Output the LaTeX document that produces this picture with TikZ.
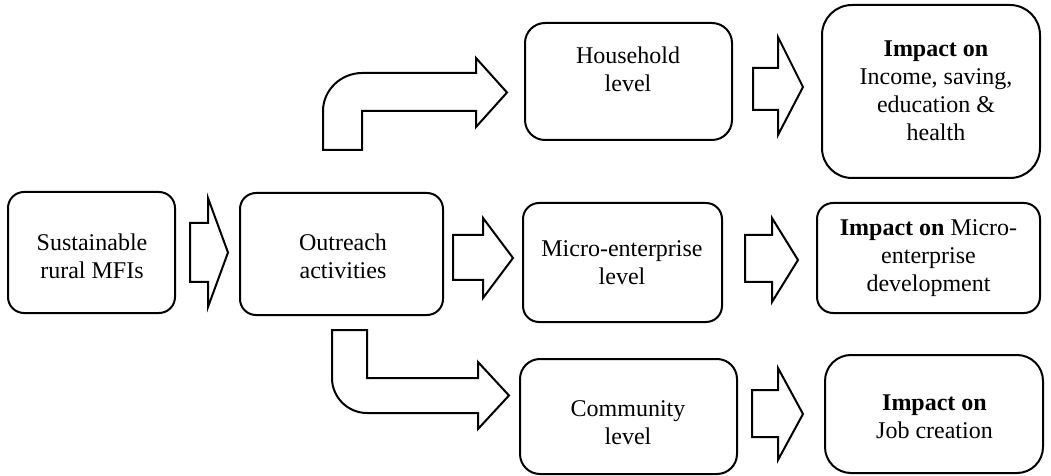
\documentclass[tikz,border=0pt]{standalone}
\usepackage{fontspec}
\setmainfont{Liberation Serif}
\begin{document}
\begin{tikzpicture}[x=0.5pt,y=-0.5pt,
  box/.style={draw, line width=1pt, inner sep=0pt},
  txt/.style={inner sep=0pt, align=center, font=\fontsize{12}{14}\selectfont},
  blk/.style={draw, line width=1pt, line join=miter, fill=white}]
\useasboundingbox (0,0) rectangle (1051,476);

% boxes
\node[box, rounded corners=8pt, minimum width=83.5pt, minimum height=60.5pt] (mfi) at (91.5,252.5) {};
\node[box, rounded corners=8pt, minimum width=101.5pt, minimum height=61pt] (out) at (341.5,254) {};
\node[box, rounded corners=10pt, minimum width=103.5pt, minimum height=58.5pt] (hh) at (628.5,81.5) {};
\node[box, rounded corners=8pt, minimum width=99.5pt, minimum height=59.5pt] (me) at (622.5,262.5) {};
\node[box, rounded corners=10pt, minimum width=108.5pt, minimum height=57.5pt] (com) at (628.5,416.5) {};
\node[box, rounded corners=15pt, minimum width=109pt, minimum height=86.5pt] (imp1) at (931,91.5) {};
\node[box, rounded corners=8pt, minimum width=111.5pt, minimum height=55pt] (imp2) at (928.5,258) {};
\node[box, rounded corners=13pt, minimum width=109pt, minimum height=59pt] (imp3) at (934,414) {};

% texts
\node[txt] (mfit) at (92,256) {Sustainable\\rural MFIs};
\node[txt] (outt) at (343,256) {Outreach\\activities};
\node[txt] (hht) at (628,69) {Household\\level};
\node[txt] (met) at (622,263) {Micro-enterprise\\level};
\node[txt] (comt) at (628,423) {Community\\level};
\node[txt] (imp1t) at (936,91) {\textbf{Impact on}\\Income, saving,\\education \&\\health};
\node[txt] (imp2t) at (928.5,258) {\textbf{Impact on} Micro-\\enterprise\\development};
\node[txt] (imp3t) at (934.5,417) {\textbf{Impact on}\\Job creation};

% straight block arrows
\draw[blk] (190,223) -- (208,223) -- (208,198) -- (228,252.5) -- (208,307) -- (208,282) -- (190,282) -- cycle;
\draw[blk] (453,235) -- (483,235) -- (483,218) -- (513,258) -- (483,298) -- (483,280) -- (453,280) -- cycle;
\draw[blk] (753,68) -- (778,68) -- (778,37) -- (803,87) -- (778,135) -- (778,110) -- (753,110) -- cycle;
\draw[blk] (745,235) -- (772,235) -- (772,218) -- (798,260) -- (772,302) -- (772,282) -- (745,282) -- cycle;
\draw[blk] (752,390) -- (778,390) -- (778,368) -- (803,414) -- (778,460) -- (778,437) -- (752,437) -- cycle;

% bent block arrows
\draw[blk] (323,150) -- (323,111) .. controls (323,90) and (341,73) .. (362,73)
  -- (476,73) -- (476,58) -- (507,92.5) -- (476,127) -- (476,111) -- (362,111) -- (362,150) -- cycle;
\draw[blk] (332,330) -- (367,330) -- (367,378) -- (478,378) -- (478,362) -- (509,395.5)
  -- (478,429) -- (478,413) -- (367,413) .. controls (347.7,413) and (332,397.3) .. (332,378) -- cycle;
\end{tikzpicture}
\end{document}
